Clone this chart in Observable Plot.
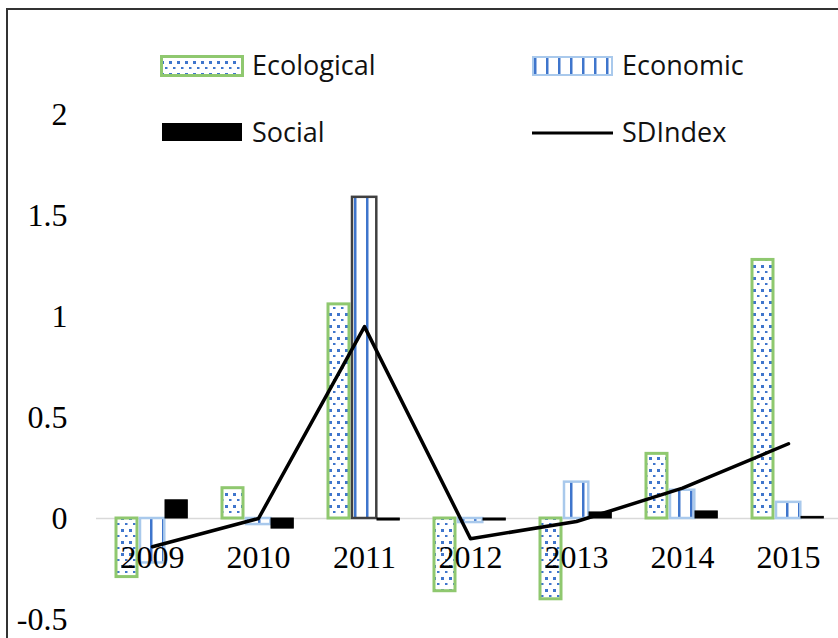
<!DOCTYPE html>
<html><head><meta charset="utf-8">
<script src="https://cdn.jsdelivr.net/npm/d3@7"></script>
<script src="https://cdn.jsdelivr.net/npm/@observablehq/plot@0.6"></script>
<style>
html,body{margin:0;padding:0;background:#fff;overflow:hidden;width:838px;height:638px}
#wrap{position:relative;width:838px;height:638px;overflow:hidden}
#wrap svg{position:absolute;left:0;top:0}
#frame{position:absolute;left:6px;top:8px;width:900px;height:700px;border-left:2px solid #333;border-top:2px solid #333;pointer-events:none}
</style></head>
<body><div id="wrap"><div id="frame"></div></div>
<script>
const years = [2009, 2010, 2011, 2012, 2013, 2014, 2015];
const ecological = [-0.29, 0.15, 1.06, -0.36, -0.40, 0.32, 1.28];
const economic = [-0.22, -0.03, 1.59, -0.02, 0.18, 0.14, 0.08];
const social = [0.09, -0.05, -0.01, -0.01, 0.03, 0.035, 0.008];
const sdindex = [-0.14, 0.0, 0.95, -0.10, -0.015, 0.15, 0.37];
const seriesNames = ["Ecological", "Economic", "Social", "SDIndex"];
const yTicks = [-0.5, 0, 0.5, 1, 1.5, 2];

const rows = vals => years.map((year, i) => ({year, value: vals[i]}));
const blue = "#3f75cc";

const plot = Plot.plot({
  width: 838, height: 638,
  marginLeft: 96, marginRight: -5, marginTop: 114, marginBottom: 19,
  style: {fontFamily: "'Liberation Serif', 'Times New Roman', serif", fontSize: "32px", color: "#000", background: "transparent", overflow: "visible"},
  x: {type: "band", domain: years, padding: 0, axis: null},
  y: {domain: [-0.5, 2], label: null},
  marks: [
    Plot.axisY({ticks: yTicks, tickSize: 0, tickPadding: 29, tickFormat: d => String(d), fontSize: 32, fill: "#000", label: null}),
    Plot.ruleY([0], {stroke: "#d9d9d9", strokeWidth: 1.5}),
    Plot.barY(rows(ecological), {x: "year", y: "value", fill: "url(#dots)", stroke: "#8fc86f", strokeWidth: 3, insetLeft: 17, insetRight: 68}),
    Plot.barY(rows(economic), {x: "year", y: "value", fill: "url(#stripes)", stroke: d => d.year === 2011 ? "#404040" : "#a9c9ec", strokeWidth: 2.5, insetLeft: 41, insetRight: 40.7}),
    Plot.barY(rows(social), {x: "year", y: "value", fill: "#000", stroke: "#000", strokeWidth: 1, insetLeft: 66, insetRight: 17.7}),
    Plot.lineY(rows(sdindex), {x: "year", y: "value", stroke: "#000", strokeWidth: 3.5}),
    Plot.text(years, {x: d => d, y: () => 0, dy: 39, lineAnchor: "middle", fontSize: 32, fill: "#000", text: d => String(d)})
  ]
});
document.getElementById("wrap").appendChild(plot);

// legend overlay + pattern definitions
const leg = d3.select("#wrap").append("svg").attr("width", 838).attr("height", 638)
  .style("pointer-events", "none");
const defs = leg.append("defs");
const pd = defs.append("pattern").attr("id", "dots").attr("width", 8).attr("height", 12).attr("patternUnits", "userSpaceOnUse");
pd.append("rect").attr("width", 8).attr("height", 12).attr("fill", "#fff");
pd.append("rect").attr("x", 1).attr("y", 1).attr("width", 3).attr("height", 3).attr("fill", blue);
pd.append("rect").attr("x", 5).attr("y", 7).attr("width", 2.5).attr("height", 2).attr("fill", blue);
const ps = defs.append("pattern").attr("id", "stripes").attr("width", 12).attr("height", 10).attr("patternUnits", "userSpaceOnUse");
ps.append("rect").attr("width", 12).attr("height", 10).attr("fill", "#fff");
ps.append("rect").attr("x", 6).attr("width", 2.5).attr("height", 10).attr("fill", blue);

const lf = "'Open Sans', 'Liberation Sans', sans-serif";
leg.append("rect").attr("x", 161.5).attr("y", 56.5).attr("width", 81).attr("height", 19)
  .attr("fill", "url(#dots)").attr("stroke", "#8fc86f").attr("stroke-width", 3);
leg.append("rect").attr("x", 533).attr("y", 57).attr("width", 79).attr("height", 18)
  .attr("fill", "url(#stripes)").attr("stroke", "#a9c9ec").attr("stroke-width", 2);
leg.append("rect").attr("x", 162).attr("y", 123).attr("width", 80).attr("height", 18).attr("fill", "#000");
leg.append("line").attr("x1", 532).attr("x2", 613).attr("y1", 133).attr("y2", 133)
  .attr("stroke", "#000").attr("stroke-width", 3);
const pos = [[252, 75], [622, 75], [252, 142], [622, 142]];
seriesNames.forEach((n, i) => {
  leg.append("text").attr("x", pos[i][0]).attr("y", pos[i][1]).text(n)
    .attr("font-family", lf).attr("font-size", 27).attr("fill", "#111");
});
</script>
</body></html>
